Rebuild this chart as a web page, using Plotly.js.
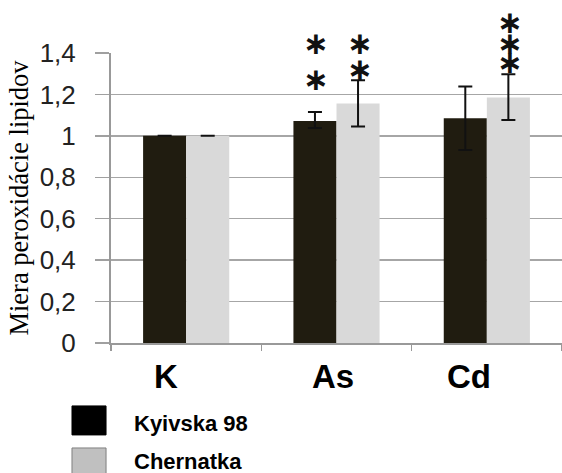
<!DOCTYPE html>
<html>
<head>
<meta charset="utf-8">
<script src="https://cdn.plot.ly/plotly-3.0.1.min.js"></script>
<style>
html,body{margin:0;padding:0;background:#fff;}
#chart{width:562px;height:473px;}
</style>
</head>
<body>
<div id="chart"></div>
<script>
// ---- data ----
var categories = ["K", "As", "Cd"];
var seriesNames = ["Kyivska 98", "Chernatka"];
var kyivskaValues = [1.0, 1.072, 1.085];
var kyivskaErrPlus = [null, 0.043, 0.153];
var kyivskaErrMinus = [null, 0.034, 0.153];
var chernatkaValues = [1.0, 1.156, 1.185];
var chernatkaErrPlus = [null, 0.112, 0.113];
var chernatkaErrMinus = [null, 0.111, 0.108];
var yTickVals = [0, 0.2, 0.4, 0.6, 0.8, 1.0, 1.2, 1.4];
var yTitle = "Miera peroxidácie lipidov";
// significance marks: [category, series index, y level]
var starMarks = [
  ["As", 0, 1.273], ["As", 0, 1.446],
  ["As", 1, 1.321], ["As", 1, 1.446],
  ["Cd", 1, 1.355], ["Cd", 1, 1.446], ["Cd", 1, 1.548]
];

var barColors = ["#201c10", "#d9d9d9"];
var legendColors = ["#000000", "#c0c0c0"];
var yMax = 1.4;

var traces = [
  {
    type: "bar", x: categories, y: kyivskaValues, name: seriesNames[0],
    marker: {color: barColors[0], line: {width: 0}},
    error_y: {type: "data", symmetric: false, array: kyivskaErrPlus, arrayminus: kyivskaErrMinus,
              color: "#111", thickness: 2, width: 7}
  },
  {
    type: "bar", x: categories, y: chernatkaValues, name: seriesNames[1],
    marker: {color: barColors[1], line: {width: 0}},
    error_y: {type: "data", symmetric: false, array: chernatkaErrPlus, arrayminus: chernatkaErrMinus,
              color: "#111", thickness: 2, width: 7}
  }
];

var annotations = [];
// category labels
var labelShift = [-20, -4, -18];
categories.forEach(function(c, i){
  annotations.push({
    x: c, xref: "x", y: -0.117, yref: "paper", xshift: labelShift[i],
    text: "<b>" + c + "</b>", showarrow: false, xanchor: "center", yanchor: "middle",
    font: {family: "Liberation Sans, Arial, sans-serif", size: 33, color: "#000"}
  });
});
// asterisks (paper coords so they may sit above the plot area)
starMarks.forEach(function(s){
  annotations.push({
    x: s[0], xref: "x", y: s[2] / yMax, yref: "paper", xshift: s[1] === 0 ? -21 : 23,
    text: "<b>∗</b>", showarrow: false, xanchor: "center", yanchor: "middle",
    font: {family: "DejaVu Sans, sans-serif", size: 31, color: "#111"}
  });
});
// legend text
var legendY = [-0.276, -0.41];
seriesNames.forEach(function(n, i){
  annotations.push({
    x: 0.046, xref: "paper", y: legendY[i], yref: "paper",
    text: "<b>" + n + "</b>", showarrow: false, xanchor: "left", yanchor: "middle",
    font: {family: "Liberation Sans, Arial, sans-serif", size: 22, color: "#000"}
  });
});

var shapes = [
  {type: "rect", xref: "paper", yref: "paper", x0: -0.0865, x1: -0.011, y0: -0.217, y1: -0.317,
   fillcolor: legendColors[0], line: {color: "#000", width: 1}},
  {type: "rect", xref: "paper", yref: "paper", x0: -0.0865, x1: -0.011, y0: -0.362, y1: -0.47,
   fillcolor: legendColors[1], line: {color: "#7f7f7f", width: 1}}
];

var layout = {
  width: 562, height: 473,
  margin: {l: 111, r: 0, t: 53, b: 130, pad: 0},
  paper_bgcolor: "#fff", plot_bgcolor: "#fff",
  separators: ", ",
  showlegend: false,
  barmode: "group",
  bargap: 0.427,
  bargroupgap: 0,
  xaxis: {
    type: "category", range: [-0.5, 2.5],
    showticklabels: false,
    tickson: "boundaries", ticks: "outside", ticklen: 6, tickwidth: 1.5, tickcolor: "#999",
    showline: true, linecolor: "#999", linewidth: 1.5,
    showgrid: false, zeroline: false, fixedrange: true
  },
  yaxis: {
    range: [0, yMax], tickvals: yTickVals,
    ticks: "outside", ticklen: 14, tickwidth: 1.5, tickcolor: "#a0a0a0",
    ticklabelstandoff: 14,
    tickfont: {family: "Liberation Sans, Arial, sans-serif", size: 26, color: "#222"},
    showgrid: true, gridcolor: "#a6a6a6", gridwidth: 1.5,
    showline: true, linecolor: "#999", linewidth: 2,
    zeroline: false, fixedrange: true,
    title: {text: yTitle, standoff: 3,
            font: {family: "Liberation Serif, Times New Roman, serif", size: 26.5, color: "#000"}}
  },
  annotations: annotations,
  shapes: shapes
};

Plotly.newPlot("chart", traces, layout, {displayModeBar: false, staticPlot: true});
</script>
</body>
</html>
